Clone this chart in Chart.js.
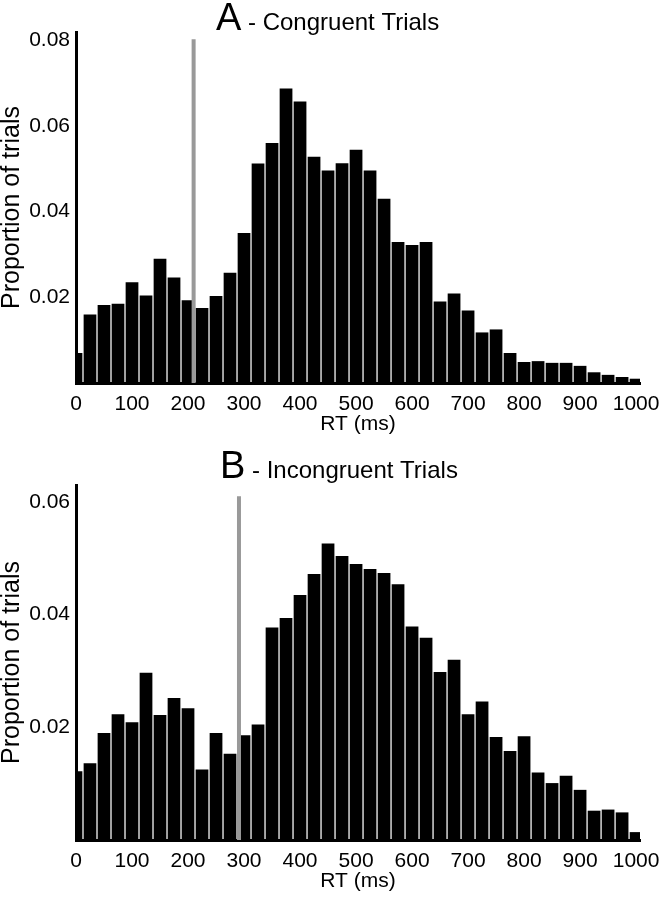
<!DOCTYPE html>
<html>
<head>
<meta charset="utf-8">
<title>RT distributions</title>
<script src="https://cdn.jsdelivr.net/npm/chart.js@4.4.1/dist/chart.umd.min.js"></script>
<style>
  body { margin: 0; background: #fff; }
  .panel { position: absolute; left: 0; }
</style>
</head>
<body>
<div class="panel" style="top:0"><canvas id="chartA" width="659" height="440"></canvas></div>
<div class="panel" style="top:440px"><canvas id="chartB" width="659" height="459"></canvas></div>
<script>
"use strict";

const FONT = "'Liberation Sans', Arial, sans-serif";

// RT bin centres (ms), 25 ms bins
const binCenters = [0, 25, 50, 75, 100, 125, 150, 175, 200, 225, 250, 275, 300, 325, 350, 375, 400, 425, 450, 475,
    500, 525, 550, 575, 600, 625, 650, 675, 700, 725, 750, 775, 800, 825, 850, 875, 900, 925, 950, 975, 1000];

// A - congruent trials
const congruent = [0.0070, 0.0160, 0.0182, 0.0185, 0.0235, 0.0204, 0.0290, 0.0246, 0.0193, 0.0175, 0.0203,
    0.0257, 0.0350, 0.0512, 0.0560, 0.0687, 0.0657, 0.0528, 0.0496, 0.0513, 0.0544, 0.0496, 0.0430, 0.0329,
    0.0322, 0.0329, 0.0190, 0.0209, 0.0169, 0.0118, 0.0125, 0.0070, 0.0049, 0.0051, 0.0047, 0.0047, 0.0040,
    0.0025, 0.0019, 0.0014, 0.0010];

// B - incongruent trials
const incongruent = [0.0122, 0.0136, 0.0190, 0.0223, 0.0209, 0.0297, 0.0222, 0.0252, 0.0234, 0.0125, 0.0190,
    0.0153, 0.0186, 0.0205, 0.0377, 0.0394, 0.0435, 0.0472, 0.0526, 0.0504, 0.0490, 0.0481, 0.0474, 0.0454,
    0.0379, 0.0359, 0.0298, 0.0320, 0.0223, 0.0246, 0.0183, 0.0158, 0.0184, 0.0120, 0.0101, 0.0114, 0.0089,
    0.0052, 0.0054, 0.0049, 0.0014];

const xTicks = [0, 100, 200, 300, 400, 500, 600, 700, 800, 900, 1000];
const yTicksA = [0.02, 0.04, 0.06, 0.08];
const yTicksB = [0.02, 0.04, 0.06];

// grey cut-off lines (ms) and their heights
const cutoffA = [210, 0.0802];
const cutoffB = [291, 0.0610];

// big letter + smaller title text drawn on the canvas
const panelTitle = {
    id: 'panelTitle',
    afterDraw(chart, args, opts) {
        const ctx = chart.ctx;
        ctx.save();
        ctx.fillStyle = '#000';
        ctx.textAlign = 'left';
        ctx.textBaseline = 'alphabetic';
        ctx.font = '38px ' + FONT;
        ctx.fillText(opts.letter, opts.x, opts.y);
        const w = ctx.measureText(opts.letter).width;
        ctx.font = '24px ' + FONT;
        ctx.fillText(' - ' + opts.text, opts.x + w, opts.y);
        ctx.restore();
    }
};

function makeChart(id, values, cutoff, cfg) {
    const ctx = document.getElementById(id).getContext('2d');
    return new Chart(ctx, {
        type: 'bar',
        data: {
            datasets: [{
                type: 'line',
                data: [{x: cutoff[0], y: 0}, {x: cutoff[0], y: cutoff[1]}],
                borderColor: '#999999',
                borderWidth: 4,
                pointRadius: 0,
                clip: 0
            }, {
                data: binCenters.map((x, i) => ({x: x, y: values[i]})),
                backgroundColor: '#000',
                borderWidth: 0,
                barPercentage: 0.91,
                categoryPercentage: 1,
                clip: 0
            }]
        },
        options: {
            responsive: false,
            animation: false,
            layout: { padding: { top: cfg.padTop, right: 19, bottom: cfg.padBottom, left: 0 } },
            plugins: {
                legend: { display: false },
                tooltip: { enabled: false },
                panelTitle: { letter: cfg.letter, text: cfg.title, x: cfg.titleX, y: cfg.titleY }
            },
            scales: {
                x: {
                    type: 'linear',
                    offset: false,
                    min: 0,
                    max: 1007,
                    grid: { display: false, drawTicks: false },
                    border: { display: true, color: '#000', width: 3 },
                    afterBuildTicks: s => { s.ticks = xTicks.map(v => ({value: v})); },
                    afterFit: s => { s.height = 57; s.paddingLeft = 0; s.paddingRight = 0; },
                    ticks: {
                        color: '#000',
                        padding: 9,
                        maxRotation: 0,
                        autoSkip: false,
                        font: { family: FONT, size: 21 },
                        callback: v => String(v)
                    },
                    title: {
                        display: true,
                        text: 'RT (ms)',
                        color: '#000',
                        padding: { top: 0, bottom: 3 },
                        font: { family: FONT, size: 21 }
                    }
                },
                y: {
                    min: 0,
                    max: cfg.yMax,
                    grid: { display: false, drawTicks: false },
                    border: { display: true, color: '#000', width: 3 },
                    afterBuildTicks: s => { s.ticks = cfg.yTicks.map(v => ({value: v})); },
                    afterFit: s => { s.width = 76; },
                    ticks: {
                        color: '#000',
                        padding: 6,
                        font: { family: FONT, size: 21 },
                        callback: v => v.toFixed(2)
                    },
                    title: {
                        display: true,
                        text: 'Proportion of trials',
                        color: '#000',
                        padding: { top: 0, bottom: 0 },
                        font: { family: FONT, size: 25, lineHeight: 1 }
                    }
                }
            }
        },
        plugins: [panelTitle]
    });
}

makeChart('chartA', congruent, cutoffA, {
    yMax: 0.0819, yTicks: yTicksA, padTop: 32, padBottom: 0,
    letter: 'A', title: 'Congruent Trials', titleX: 216, titleY: 30
});

makeChart('chartB', incongruent, cutoffB, {
    yMax: 0.0630, yTicks: yTicksB, padTop: 45, padBottom: 2,
    letter: 'B', title: 'Incongruent Trials', titleX: 220, titleY: 38
});
</script>
</body>
</html>
